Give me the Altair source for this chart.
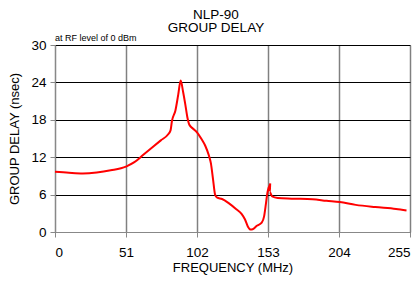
import altair as alt
import pandas as pd

freq = [0, 10, 20, 30, 40, 51, 57, 63, 70, 76, 81, 83, 84, 86.5, 88.5, 90.3, 92, 93.5, 95, 96.5,
        99, 102, 105, 108, 110.5, 112, 113.5, 115, 116.5, 120, 125, 130, 134, 136.5, 138.5, 140.5,
        142, 145, 148.5, 150.2, 151.5, 152.5, 153.3, 154.6, 154.3, 156, 160, 170, 185, 195, 204.5,
        216, 230, 245, 252.5]
delay = [9.65, 9.5, 9.4, 9.55, 9.9, 10.5, 11.2, 12.3, 13.6, 14.7, 15.6, 16.3, 17.8, 19.5, 22, 24.3,
         22.5, 20.6, 18.5, 17.2, 16.6, 16.0, 15.0, 13.8, 12.3, 11.0, 8.5, 6.0, 5.5, 5.3, 4.6, 3.7,
         2.9, 2.0, 0.9, 0.4, 0.45, 1.0, 1.5, 2.5, 4.5, 6.2, 7.0, 7.8, 6.4, 5.7, 5.45, 5.35, 5.25,
         5.0, 4.8, 4.35, 4.0, 3.7, 3.45]
x_ticks = [0, 51, 102, 153, 204, 255]
y_ticks = [0, 6, 12, 18, 24, 30]
title_lines = ["NLP-90", "GROUP DELAY"]
note_text = "at RF level of 0 dBm"

df = pd.DataFrame({"freq": freq, "delay": delay, "idx": list(range(len(freq)))})
FONT = "Liberation Sans"

line = alt.Chart(df).mark_line(color="#ff0000", strokeWidth=2, interpolate="monotone").encode(
    x=alt.X("freq:Q", scale=alt.Scale(domain=[0, 255], nice=False, zero=False),
            axis=alt.Axis(values=x_ticks, title="FREQUENCY (MHz)", gridColor="#808080",
                          gridWidth=1.5, labelPadding=8, titlePadding=3,
                          titleFontWeight="normal", labelFontSize=13.5, titleFontSize=13)),
    y=alt.Y("delay:Q", scale=alt.Scale(domain=[0, 30], nice=False),
            axis=alt.Axis(values=y_ticks, title="GROUP DELAY (nsec)", gridColor="#000000",
                          gridWidth=1, labelPadding=4, titlePadding=9,
                          titleFontWeight="normal", labelFontSize=13.5, titleFontSize=13)),
    order="idx:Q",
)

def text_layer(txt, x, y, size, align):
    return alt.Chart(pd.DataFrame({"t": [txt]})).mark_text(
        align=align, baseline="alphabetic", fontSize=size, font=FONT, color="#000000"
    ).encode(x=alt.value(x), y=alt.value(y), text="t:N")

note = text_layer(note_text, 0, -4, 9, "left")
t1 = text_layer(title_lines[0], 161, -26.5, 13.5, "center")
t2 = text_layer(title_lines[1], 161, -13, 13.5, "center")

chart = alt.layer(line, note, t1, t2).properties(
    width=355, height=187,
    autosize=alt.AutoSizeParams(type="none"),
    padding={"left": 47, "top": 37, "right": 2, "bottom": 43},
).configure_axis(
    labelFont=FONT, titleFont=FONT,
    labelColor="#000000", titleColor="#000000",
    domainColor="#000000", domainWidth=2, tickColor="#000000", tickSize=5,
    tickWidth=1.5, gridOpacity=1,
).configure_view(stroke="#000000", strokeWidth=1.5).configure(background="white")

chart.save("out.html", embed_options={"renderer": "svg", "actions": False})
